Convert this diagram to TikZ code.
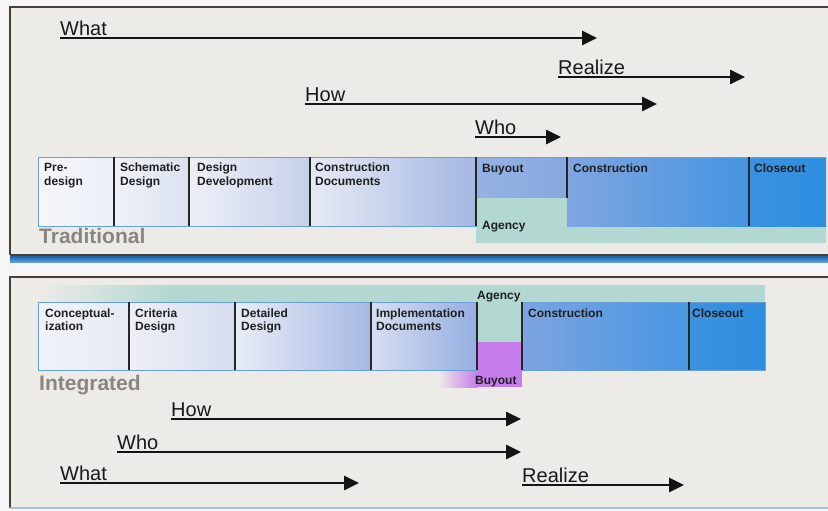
\documentclass[tikz,border=0pt]{standalone}
\usepackage{fontspec}
\setmainfont{Liberation Sans}
\usetikzlibrary{arrows.meta}
\definecolor{panelbg}{HTML}{EDEBE8}
\definecolor{outbg}{HTML}{F6F6F6}
\definecolor{framec}{HTML}{4A3F38}
\definecolor{teal}{HTML}{B3D8D2}
\definecolor{purp}{HTML}{C67CEB}
\definecolor{edge}{HTML}{6A9FD6}
\definecolor{greyt}{HTML}{8A8580}
\definecolor{bartop}{HTML}{1F5FA8}
\definecolor{barbot}{HTML}{5AA0E0}
\definecolor{bottomline}{HTML}{A8C0DC}
\tikzset{
  arr/.style={line width=2.8pt,-{Triangle[length=15pt,width=14pt]},draw=black!92},
  lbl/.style={anchor=base west,inner sep=0pt,font=\fontsize{20}{24}\selectfont,text=black!90},
  btxt/.style={anchor=base west,inner sep=0pt,align=left,font=\bfseries\fontsize{12}{13.5}\selectfont,text=black!88},
  big/.style={anchor=base west,inner sep=0pt,font=\bfseries\fontsize{21}{24}\selectfont,text=greyt},
  divider/.style={draw=black!85,line width=1.2pt},
  framel/.style={draw=framec,line width=1.3pt}
}
\begin{document}
\begin{tikzpicture}[x=1pt,y=-1pt]
\useasboundingbox (0,0) rectangle (828,511);
\fill[outbg] (0,0) rectangle (828,511);
\fill[panelbg] (10,7) rectangle (828,255);
\fill[panelbg] (10,277) rectangle (828,508);
% frames
\draw[framel] (10,255) -- (10,7) -- (828,7);
\shade[top color=bartop, bottom color=barbot] (10,256) rectangle (828,262);
\draw[framel] (10,255) -- (828,255);
\draw[framel] (10,508) -- (10,277) -- (828,277);
\draw[draw=bottomline,line width=1.5pt] (10,508) -- (828,508);

% ---------- Traditional row ----------
\shade[left color={rgb,255:red,244;green,246;blue,250}, right color={rgb,255:red,236;green,240;blue,247}] (38,157) rectangle (114,226);
\shade[left color={rgb,255:red,240;green,242;blue,248}, right color={rgb,255:red,218;green,225;blue,240}] (114,157) rectangle (189,226);
\shade[left color={rgb,255:red,238;green,240;blue,247}, right color={rgb,255:red,197;green,208;blue,234}] (189,157) rectangle (310,226);
\shade[left color={rgb,255:red,230;green,234;blue,244}, right color={rgb,255:red,164;green,184;blue,227}] (310,157) rectangle (476,226);
\shade[left color={rgb,255:red,150;green,178;blue,226}, right color={rgb,255:red,134;green,168;blue,224}] (476,157) rectangle (567,198);
\fill[teal] (476,198) -- (567,198) -- (567,226) -- (826,226) -- (826,243) -- (476,243) -- cycle;
\shade[left color={rgb,255:red,128;green,166;blue,224}, right color={rgb,255:red,68;green,148;blue,226}] (567,157) rectangle (749,226);
\shade[left color={rgb,255:red,58;green,146;blue,224}, right color={rgb,255:red,46;green,142;blue,224}] (749,157) rectangle (826,226);
\draw[edge,line width=0.9pt] (38,157) rectangle (476,226);
\draw[edge,line width=0.9pt] (476,157) -- (826,157);
\draw[divider] (114,157) -- (114,226);
\draw[divider] (189,157) -- (189,226);
\draw[divider] (310,157) -- (310,226);
\draw[divider] (476,157) -- (476,226);
\draw[divider] (567,157) -- (567,198);
\draw[divider] (749,157) -- (749,226);

\node[btxt] (predesign) at (44,185.5) {Pre-\\design};
\node[btxt] (schem) at (120,185.5) {Schematic\\Design};
\node[btxt] (dd) at (197,185.5) {Design\\Development};
\node[btxt] (cd) at (315,185.5) {Construction\\Documents};
\node[btxt] (buyT) at (482,172) {Buyout};
\node[btxt] (consT) at (573,172) {Construction};
\node[btxt] (closeT) at (754,172) {Closeout};
\node[btxt] (agencyT) at (482,229) {Agency};
\node[big] (trad) at (39,243) {Traditional};

% ---------- Integrated row ----------
\shade[left color=panelbg, right color=teal] (38,285) rectangle (170,302);
\fill[teal] (169.5,285) rectangle (765,302);
\shade[left color={rgb,255:red,240;green,243;blue,248}, right color={rgb,255:red,230;green,234;blue,243}] (38,302) rectangle (129,370);
\shade[left color={rgb,255:red,238;green,240;blue,247}, right color={rgb,255:red,214;green,221;blue,239}] (129,302) rectangle (235,370);
\shade[left color={rgb,255:red,232;green,236;blue,246}, right color={rgb,255:red,166;green,185;blue,228}] (235,302) rectangle (371,370);
\shade[left color={rgb,255:red,214;green,222;blue,240}, right color={rgb,255:red,150;green,174;blue,226}] (371,302) rectangle (477,370);
\fill[teal] (477,302) rectangle (522,342);
\fill[purp] (477,342) rectangle (522,387);
\shade[left color=panelbg, right color=purp] (438,370) rectangle (477.5,387);
\shade[left color={rgb,255:red,124;green,164;blue,224}, right color={rgb,255:red,72;green,150;blue,226}] (522,302) rectangle (689,370);
\shade[left color={rgb,255:red,58;green,146;blue,224}, right color={rgb,255:red,46;green,142;blue,224}] (689,302) rectangle (765,370);
\draw[edge,line width=0.9pt] (38,302) rectangle (477,370);
\draw[edge,line width=0.9pt] (522,302) rectangle (765,370);
\draw[divider] (129,302) -- (129,370);
\draw[divider] (235,302) -- (235,370);
\draw[divider] (371,302) -- (371,370);
\draw[divider] (477,302) -- (477,370);
\draw[divider] (522,302) -- (522,370);
\draw[divider] (689,302) -- (689,370);

\node[btxt] (concept) at (45,330.5) {Conceptual-\\ization};
\node[btxt] (crit) at (135,330.5) {Criteria\\Design};
\node[btxt] (det) at (241,330.5) {Detailed\\Design};
\node[btxt] (impl) at (376,330.5) {Implementation\\Documents};
\node[btxt] (consI) at (528,317) {Construction};
\node[btxt] (closeI) at (692,317) {Closeout};
\node[btxt] (agencyI) at (477,299) {Agency};
\node[btxt] (buyI) at (475,384) {Buyout};
\node[big] (integ) at (39,390) {Integrated};

% ---------- top arrows ----------
\node[lbl] (whatT) at (60,35.5) {What};
\coordinate (whatTs) at (60,38); \coordinate (whatTe) at (597,38);
\draw[arr] (whatTs) -- (whatTe);
\node[lbl] (realT) at (558,74.5) {Realize};
\coordinate (realTs) at (558,77); \coordinate (realTe) at (745,77);
\draw[arr] (realTs) -- (realTe);
\node[lbl] (howT) at (305,101.5) {How};
\coordinate (howTs) at (305,104); \coordinate (howTe) at (657,104);
\draw[arr] (howTs) -- (howTe);
\node[lbl] (whoT) at (475,134.5) {Who};
\coordinate (whoTs) at (475,137); \coordinate (whoTe) at (561,137);
\draw[arr] (whoTs) -- (whoTe);

% ---------- bottom arrows ----------
\node[lbl] (howB) at (171,416.5) {How};
\coordinate (howBs) at (171,419); \coordinate (howBe) at (521,419);
\draw[arr] (howBs) -- (howBe);
\node[lbl] (whoB) at (117,449.5) {Who};
\coordinate (whoBs) at (117,452); \coordinate (whoBe) at (521,452);
\draw[arr] (whoBs) -- (whoBe);
\node[lbl] (whatB) at (60,480.5) {What};
\coordinate (whatBs) at (60,483); \coordinate (whatBe) at (359,483);
\draw[arr] (whatBs) -- (whatBe);
\node[lbl] (realB) at (522,482.5) {Realize};
\coordinate (realBs) at (522,485); \coordinate (realBe) at (684,485);
\draw[arr] (realBs) -- (realBe);
\end{tikzpicture}
\end{document}
